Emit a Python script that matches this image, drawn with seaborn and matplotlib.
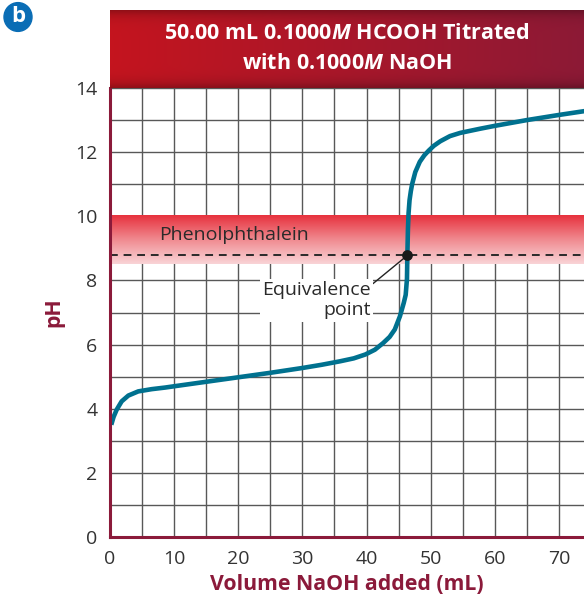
import numpy as np
import pandas as pd
import matplotlib
matplotlib.use("Agg")
import matplotlib.pyplot as plt
import seaborn as sns
from matplotlib.colors import LinearSegmentedColormap

# titration curve
volume = [0.2, 0.55, 1.04, 1.82, 2.86, 4.4, 6.5, 8.6, 10, 15, 20, 25, 30,
          33, 35.9, 38, 39.8, 41.3, 42.6, 43.6, 44.4, 45.2, 45.8, 46.1,
          46.3, 46.36, 46.45, 46.55, 46.7, 46.9, 47.1, 47.6, 48.3, 49.0,
          49.7, 50.5, 51.5, 53.0, 54.6, 57.7, 60, 65, 70, 74]
ph = [3.5, 3.74, 3.97, 4.23, 4.41, 4.54, 4.61, 4.66, 4.70, 4.84, 4.98,
      5.12, 5.27, 5.37, 5.48, 5.57, 5.69, 5.84, 6.05, 6.24, 6.47, 6.88,
      7.3, 7.55, 8.05, 8.78, 9.6, 10.1, 10.5, 10.78, 11.0, 11.38, 11.7,
      11.9, 12.05, 12.2, 12.34, 12.5, 12.6, 12.73, 12.82, 13.0, 13.16,
      13.28]

x_ticks = [0, 10, 20, 30, 40, 50, 60, 70]
y_ticks = [0, 2, 4, 6, 8, 10, 12, 14]
indicator_range = [8.5, 10.0]
equiv_point = [46.36, 8.78]
equiv_label_at = [41.0, 7.9]

maroon = "#8b1a3a"
teal = "#00718f"

sns.set_theme(style="white")
plt.rcParams['font.family'] = ['Open Sans', 'DejaVu Sans']
plt.rcParams['mathtext.fontset'] = 'custom'
plt.rcParams['mathtext.it'] = 'Open Sans:italic:bold'
plt.rcParams['mathtext.rm'] = 'Open Sans:bold'

df = pd.DataFrame({'Volume': volume, 'pH': ph})

fig = plt.figure(figsize=(5.84, 6.0), dpi=100)
ax = fig.add_axes([110/584, 63/600, 474/584, 449/600])

ax.set_xticks(x_ticks)
ax.set_yticks(y_ticks)
ax.set_xticks(np.arange(0, 74, 5), minor=True)
ax.set_yticks(np.arange(0, 15, 1), minor=True)
ax.grid(True, which='both', color='#585858', linewidth=1.0, zorder=1)
ax.set_axisbelow(True)
ax.tick_params(which='both', length=0, labelsize=14, colors='#333333', pad=9)

# indicator band
band_cmap = LinearSegmentedColormap.from_list('band', ['#f9d3d6', '#f08a90', '#e7323e'])
grad = np.linspace(0, 1, 100).reshape(-1, 1)
ax.imshow(grad, cmap=band_cmap, origin='lower', aspect='auto',
          extent=[0, 73.9, indicator_range[0], indicator_range[1]], zorder=2)
ax.text(7.6, 9.43, 'Phenolphthalein', fontsize=14, color='#2a2a2a',
        va='center', ha='left', zorder=3)
ax.axhline(equiv_point[1], color='#2a2a2a', linestyle=(0, (4, 3)), linewidth=1.4, zorder=3)

sns.lineplot(data=df, x='Volume', y='pH', ax=ax, color=teal, linewidth=3.3,
             zorder=4, sort=False, solid_joinstyle='round', solid_capstyle='butt')
ax.set_xlim(0, 73.9)
ax.set_ylim(0, 14)

ax.plot([equiv_label_at[0], equiv_point[0]], [equiv_label_at[1], equiv_point[1]],
        color='#222222', linewidth=1.0, zorder=3)
ax.scatter([equiv_point[0]], [equiv_point[1]], s=45, color='#1a1a1a', zorder=5)
ax.text(40.7, 7.38, 'Equivalence\npoint', fontsize=14, color='#2a2a2a',
        ha='right', va='center', multialignment='right', linespacing=1.15, zorder=3,
        bbox=dict(facecolor='white', edgecolor='none', pad=1.5))

for side in ['top', 'right']:
    ax.spines[side].set_visible(False)
for side in ['left', 'bottom']:
    ax.spines[side].set_color(maroon)
    ax.spines[side].set_linewidth(2.2)
    ax.spines[side].set_zorder(6)

ax.set_xlabel('Volume NaOH added (mL)', fontsize=15.3, fontweight='bold',
              color=maroon, labelpad=5)
ax.set_ylabel('pH', fontsize=15.3, fontweight='bold', color=maroon, labelpad=8)

# title banner
bax = fig.add_axes([110/584, 512/600, 474/584, 78/600])
h = np.linspace(0, 1, 300)
v = np.linspace(-1, 1, 60)
H, V = np.meshgrid(h, v)
left = np.array([0.77, 0.08, 0.12])
right = np.array([0.55, 0.10, 0.21])
img = left[None, None, :] * (1 - H[..., None]) + right[None, None, :] * H[..., None]
shade = 1 - 0.25 * np.abs(V) ** 6
img = img * shade[..., None]
bax.imshow(img, aspect='auto', extent=[0, 1, 0, 1])
bax.set_axis_off()
bax.text(0.5, 0.70, r'50.00 mL 0.1000$M$ HCOOH Titrated', color='white',
         fontsize=15.5, fontweight='bold', ha='center', va='center', transform=bax.transAxes)
bax.text(0.5, 0.32, r'with 0.1000$M$ NaOH', color='white',
         fontsize=15.5, fontweight='bold', ha='center', va='center', transform=bax.transAxes)

# panel badge
fig.patches.append(plt.Circle((18/584, 1 - 17/600), 14/584, transform=fig.transFigure,
                              color='#0a6db5', zorder=10))
fig.text(18/584, 1 - 16/600, 'b', color='white', fontsize=16, fontweight='bold',
         ha='center', va='center', zorder=11)

fig.savefig('out.png', dpi=100)
